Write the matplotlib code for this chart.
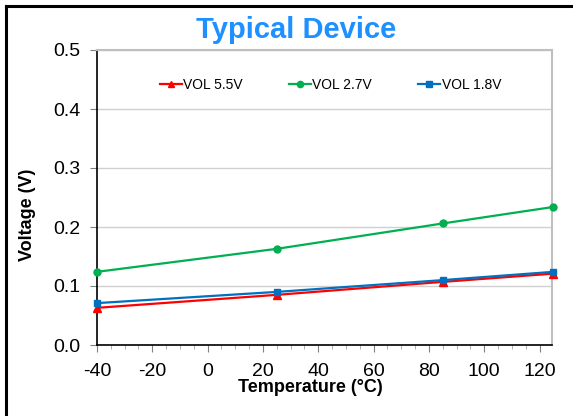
import matplotlib
matplotlib.use("Agg")
import matplotlib.pyplot as plt
from matplotlib.lines import Line2D
from matplotlib.ticker import MultipleLocator, FormatStrFormatter

plt.rcParams['font.family'] = ['Liberation Sans', 'DejaVu Sans']
plt.rcParams['axes.unicode_minus'] = False

# Data
temperature = [-40, 25, 85, 125]
vol_5v5 = [0.063, 0.085, 0.107, 0.121]
vol_2v7 = [0.124, 0.163, 0.206, 0.234]
vol_1v8 = [0.071, 0.090, 0.110, 0.124]

series_names = ['VOL 5.5V', 'VOL 2.7V', 'VOL 1.8V']

fig = plt.figure(figsize=(5.73, 4.16), dpi=100)
ax = fig.add_axes([97 / 573, 1 - 345 / 416, 455 / 573, 295 / 416])

ax.plot(temperature, vol_5v5, color='#FF0000', marker='^', markersize=5.5,
        linewidth=1.6, label=series_names[0], clip_on=False, zorder=3)
ax.plot(temperature, vol_2v7, color='#00B050', marker='o', markersize=5,
        linewidth=1.6, label=series_names[1], clip_on=False, zorder=3)
ax.plot(temperature, vol_1v8, color='#0070C0', marker='s', markersize=5,
        linewidth=1.6, label=series_names[2], clip_on=False, zorder=3)

ax.set_xlim(-40, 124.5)
ax.set_ylim(0, 0.5)
ax.xaxis.set_major_locator(MultipleLocator(20))
ax.xaxis.set_minor_locator(MultipleLocator(5))
ax.yaxis.set_major_locator(MultipleLocator(0.1))
ax.yaxis.set_major_formatter(FormatStrFormatter('%.1f'))

ax.grid(axis='y', color='#D0D0D0', linewidth=1.0)
ax.set_axisbelow(True)

for side in ['left', 'bottom']:
    ax.spines[side].set_color('black')
    ax.spines[side].set_linewidth(1.2)
for side in ['top', 'right']:
    ax.spines[side].set_color('#BFBFBF')
    ax.spines[side].set_linewidth(1.5)

ax.tick_params(axis='both', which='major', labelsize=14, direction='out',
               length=5, width=0.8, color='#808080')
ax.tick_params(axis='x', which='minor', direction='out', length=3, width=0.6,
               color='#A0A0A0')
ax.tick_params(axis='x', which='major', pad=8)
ax.tick_params(axis='y', which='major', pad=7)

ax.set_xlabel('Temperature (°C)', fontsize=13, fontweight='bold')
ax.set_ylabel('Voltage (V)', fontsize=13, fontweight='bold')
ax.xaxis.set_label_coords((310 - 97) / 455, -(387 - 345) / 295)
ax.xaxis.label.set_va('center')
ax.yaxis.set_label_coords((28 - 97) / 455, (345 - 215) / 295)
ax.yaxis.label.set_va('center')

ax.legend(loc='upper center', bbox_to_anchor=(0.513, 0.948), ncol=3,
          frameon=False, fontsize=10, handlelength=1.6, handletextpad=0.1,
          columnspacing=3.3, markerscale=0.9)

fig.text(0.517, 1 - 30 / 416, 'Typical Device', ha='center', va='center',
         fontsize=21, fontweight='bold', color='#1E90FF')

# black frame on the left and top of the figure
fig.add_artist(Line2D([6 / 573, 6 / 573], [0, 1 - 6 / 416], color='black',
                      linewidth=2.2, transform=fig.transFigure))
fig.add_artist(Line2D([6 / 573, 1], [1 - 6 / 416, 1 - 6 / 416], color='black',
                      linewidth=2.2, transform=fig.transFigure))

fig.savefig('out.png', dpi=100)
